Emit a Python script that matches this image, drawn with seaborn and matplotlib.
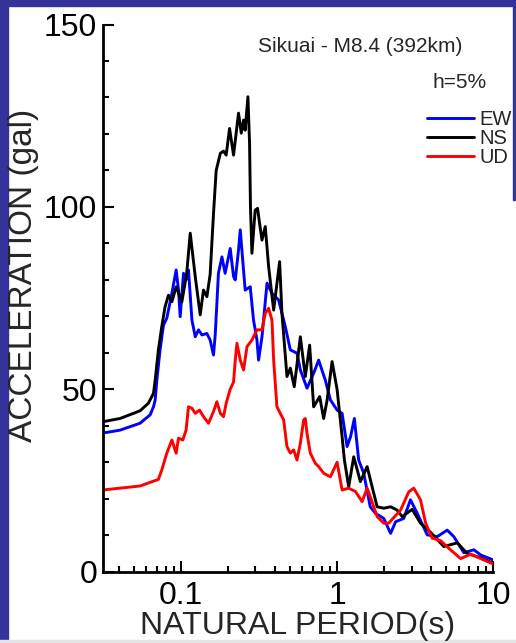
import matplotlib
matplotlib.use("Agg")
import matplotlib.pyplot as plt
from matplotlib.lines import Line2D
from matplotlib.patches import Rectangle
from matplotlib.ticker import FixedLocator, FixedFormatter, LogLocator, MultipleLocator, NullFormatter
import pandas as pd
import seaborn as sns

# Acceleration response spectra, h = 5 %
ew_period = [0.0316, 0.0408, 0.0548, 0.0636, 0.0668, 0.0685, 0.0702, 0.0736, 0.0774, 0.0813,
             0.0876, 0.0933, 0.0966, 0.099, 0.104, 0.108, 0.1119, 0.1177, 0.1236, 0.1297,
             0.1364, 0.1468, 0.154, 0.1618, 0.166, 0.174, 0.1832, 0.192, 0.207, 0.2174,
             0.223, 0.234, 0.240, 0.258, 0.278, 0.2918, 0.307, 0.3144, 0.3306, 0.356,
             0.383, 0.4223, 0.466, 0.502, 0.554, 0.582, 0.642, 0.708, 0.762, 0.841,
             0.906, 1.0, 1.077, 1.159, 1.22, 1.29, 1.375, 1.481, 1.63, 1.76,
             1.99, 2.20, 2.37, 2.67, 2.95, 3.26, 3.776, 4.375, 5.07, 5.59,
             6.48, 7.51, 8.30, 10.0]
ew_accel = [38.0, 38.8, 40.7, 43.0, 45.2, 47.1, 52.5, 60.8, 67.6, 69.5,
            76.3, 82.7, 77.2, 69.9, 81.8, 80.0, 82.7, 69.0, 64.4, 66.3,
            64.9, 65.3, 63.5, 59.4, 65.0, 81.8, 86.3, 81.8, 88.6, 80.9,
            80.0, 88.2, 93.7, 77.2, 78.1, 69.0, 63.5, 58.0, 64.4, 79.1,
            76.3, 74.5, 67.2, 60.8, 59.9, 55.3, 50.3, 54.4, 58.0, 52.5,
            47.1, 44.3, 43.4, 34.3, 37.0, 42.0, 30.6, 27.0, 17.8, 16.0,
            14.6, 10.5, 13.7, 14.6, 19.7, 16.0, 10.1, 9.6, 11.4, 9.6,
            5.2, 6.0, 4.6, 3.2]

ns_period = [0.0316, 0.0408, 0.0548, 0.062, 0.0668, 0.0685, 0.0718, 0.0755, 0.0792, 0.0833,
             0.0876, 0.0933, 0.1015, 0.109, 0.1148, 0.1236, 0.133, 0.1396, 0.1468, 0.154,
             0.1618, 0.1683, 0.179, 0.1875, 0.195, 0.205, 0.2174, 0.234, 0.2436, 0.252,
             0.258, 0.2687, 0.2753, 0.279, 0.285, 0.299, 0.3097, 0.319, 0.3306, 0.347,
             0.3646, 0.3926, 0.4287, 0.4437, 0.4777, 0.502, 0.532, 0.582, 0.626, 0.6675,
             0.708, 0.7737, 0.8206, 0.863, 0.929, 1.0, 1.077, 1.114, 1.187, 1.278,
             1.41, 1.557, 1.676, 1.805, 1.99, 2.20, 2.42, 2.61, 3.025, 3.42,
             3.97, 4.82, 5.88, 6.81, 8.30, 10.0]
ns_accel = [41.1, 42.0, 44.1, 46.2, 48.9, 52.5, 60.8, 67.2, 72.6, 75.8,
            74.0, 78.1, 74.0, 81.8, 92.8, 80.9, 70.4, 77.2, 75.4, 81.5,
            98.2, 110.0, 114.7, 115.3, 114.2, 121.5, 114.2, 125.7, 120.2, 123.8,
            121.0, 130.2, 117.4, 100.0, 87.3, 99.1, 99.6, 95.5, 90.9, 94.6,
            83.6, 71.7, 85.0, 70.8, 53.5, 55.8, 50.7, 64.4, 53.5, 62.1,
            45.2, 48.0, 42.0, 47.0, 57.6, 50.0, 37.0, 30.6, 23.3, 31.5,
            24.7, 28.8, 23.3, 17.8, 17.4, 17.8, 16.9, 15.1, 17.1, 13.3,
            10.8, 6.9, 7.9, 5.0, 3.8, 2.3]

ud_period = [0.0316, 0.0408, 0.0548, 0.0718, 0.0755, 0.0813, 0.0876, 0.0933, 0.0966, 0.103,
             0.108, 0.1119, 0.1177, 0.1236, 0.1316, 0.1396, 0.1503, 0.1618, 0.170, 0.179,
             0.1875, 0.195, 0.207, 0.2174, 0.223, 0.2285, 0.240, 0.252, 0.265, 0.285,
             0.307, 0.3306, 0.347, 0.3646, 0.383, 0.3926, 0.412, 0.433, 0.455, 0.4777,
             0.502, 0.527, 0.554, 0.582, 0.611, 0.626, 0.642, 0.674, 0.726, 0.762,
             0.8206, 0.906, 1.0, 1.077, 1.187, 1.31, 1.446, 1.557, 1.63, 1.805,
             1.99, 2.14, 2.55, 2.877, 3.097, 3.42, 3.69, 4.06, 4.60, 5.19,
             6.18, 7.16, 8.30, 10.0]
ud_accel = [22.4, 22.9, 23.5, 25.3, 27.9, 32.5, 36.1, 32.5, 36.6, 36.1,
            38.8, 45.2, 44.8, 43.4, 44.3, 42.5, 40.7, 43.9, 46.6, 43.4,
            42.5, 46.2, 50.0, 52.0, 58.0, 62.6, 58.0, 55.3, 61.7, 63.5,
            66.3, 66.3, 70.8, 72.2, 69.0, 58.0, 45.2, 43.4, 41.6, 34.3,
            32.5, 33.4, 30.6, 35.2, 41.6, 42.0, 37.9, 32.5, 29.7, 28.8,
            27.0, 26.0, 30.0, 22.4, 22.9, 22.0, 19.2, 22.9, 20.6, 15.1,
            13.3, 13.3, 16.9, 21.9, 22.9, 19.7, 13.3, 9.2, 8.5, 6.4,
            3.6, 4.8, 3.6, 2.1]

components = ["EW", "NS", "UD"]
colors = {"EW": "#0000ff", "NS": "#000000", "UD": "#ff0000"}
x_major = [0.1, 1, 10]
x_major_labels = ["0.1", "1", "10"]
y_major = [0, 50, 100, 150]

sns.set_style("ticks")
plt.rcParams["font.family"] = ["Liberation Sans", "DejaVu Sans"]

df = pd.concat([
    pd.DataFrame({"period": ew_period, "accel": ew_accel, "component": "EW"}),
    pd.DataFrame({"period": ns_period, "accel": ns_accel, "component": "NS"}),
    pd.DataFrame({"period": ud_period, "accel": ud_accel, "component": "UD"}),
], ignore_index=True)

W, H = 516, 643
fig = plt.figure(figsize=(W / 100, H / 100), dpi=100, facecolor="white")

# slide frame
frame = "#333399"
fig.add_artist(Rectangle((0, 1 - 6 / H), 1, 6 / H, transform=fig.transFigure,
                         color=frame, zorder=0))
fig.add_artist(Rectangle((0, 3 / H), 8 / W, 1 - 3 / H, transform=fig.transFigure,
                         color=frame, zorder=0))
fig.add_artist(Rectangle((1 - 3 / W, 1 - 200 / H), 3 / W, 200 / H, transform=fig.transFigure,
                         color=frame, zorder=0))
fig.add_artist(Rectangle((0, 0), 1, 3 / H, transform=fig.transFigure,
                         color="#e4e4e4", zorder=0))

left, right, top, bottom = 102.7, 493.3, 24.5, 571.7
ax = fig.add_axes([left / W, 1 - bottom / H, (right - left) / W, (bottom - top) / H])
ax.set_facecolor("none")

sns.lineplot(data=df, x="period", y="accel", hue="component", hue_order=components,
             palette=colors, estimator=None, sort=False, linewidth=2.1,
             legend=False, ax=ax)

ax.set_xscale("log")
ax.set_xlim(0.0316, 10)
ax.set_ylim(0, 150)

ax.xaxis.set_major_locator(FixedLocator(x_major))
ax.xaxis.set_major_formatter(FixedFormatter(x_major_labels))
ax.xaxis.set_minor_locator(LogLocator(base=10, subs=[2, 3, 4, 5, 6, 7, 8, 9], numticks=20))
ax.xaxis.set_minor_formatter(NullFormatter())
ax.yaxis.set_major_locator(FixedLocator(y_major))
ax.yaxis.set_minor_locator(MultipleLocator(10))

ax.tick_params(which="both", direction="in", width=1.5, colors="black")
ax.tick_params(which="major", length=8)
ax.tick_params(which="minor", length=4.5)
ax.tick_params(axis="x", which="major", labelsize=23, pad=6.5)
ax.tick_params(axis="y", which="major", labelsize=23, pad=4)

for side in ("top", "right"):
    ax.spines[side].set_visible(False)
for side in ("left", "bottom"):
    ax.spines[side].set_linewidth(2)
    ax.spines[side].set_color("black")

ax.set_xlabel("NATURAL PERIOD(s)", fontsize=23)
ax.set_ylabel("ACCELERATION (gal)", fontsize=24)
ax.xaxis.set_label_coords(0.5, (bottom - 626) / (bottom - top))
ax.xaxis.label.set_va("center")
ax.yaxis.set_label_coords((24 - left) / (right - left), (bottom - 275) / (bottom - top))
ax.yaxis.label.set_va("center")

fig.text(360 / W, 1 - 47 / H, "Sikuai - M8.4 (392km)", ha="center", va="center", fontsize=15)
fig.text(460 / W, 1 - 82 / H, "h=5%", ha="center", va="center", fontsize=15)

handles = [Line2D([], [], color=colors[c], linewidth=2.1) for c in components]
ax.legend(handles, components, loc="upper left",
          bbox_to_anchor=(426.7 / W, 1 - 110 / H), bbox_transform=fig.transFigure,
          frameon=False, fontsize=14.5, borderpad=0, borderaxespad=0,
          handlelength=2.35, handletextpad=0.28, labelspacing=0.0)

fig.savefig("out.png", dpi=100, facecolor="white")
